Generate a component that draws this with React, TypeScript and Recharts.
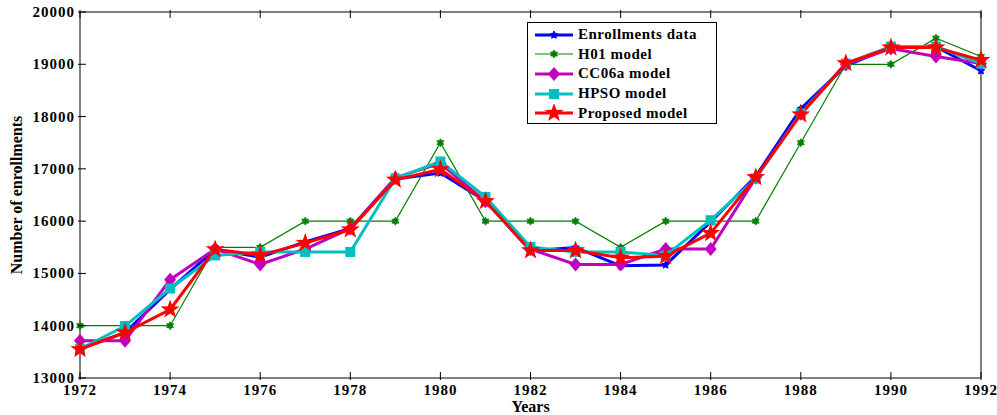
import React from "react";
import { LineChart, Line, XAxis, YAxis } from "recharts";

const years = [1972, 1973, 1974, 1975, 1976, 1977, 1978, 1979, 1980, 1981, 1982, 1983, 1984, 1985, 1986, 1987, 1988, 1989, 1990, 1991, 1992];
const enrollments = [13563, 13867, 14696, 15460, 15311, 15603, 15861, 16807, 16919, 16388, 15433, 15497, 15145, 15163, 15984, 16859, 18150, 18970, 19328, 19337, 18876];
const h01 = [14000, 14000, 14000, 15500, 15500, 16000, 16000, 16000, 17500, 16000, 16000, 16000, 15500, 16000, 16000, 16000, 17500, 19000, 19000, 19500, 19150];
const cc06a = [13714, 13714, 14880, 15467, 15172, 15467, 15861, 16831, 17106, 16380, 15464, 15172, 15172, 15467, 15467, 16831, 18055, 18998, 19300, 19149, 19014];
const hpso = [13555, 13994, 14711, 15344, 15411, 15411, 15411, 16816, 17140, 16464, 15505, 15411, 15411, 15344, 16018, 16816, 18060, 19014, 19340, 19340, 19014];
const proposed = [13550, 13870, 14310, 15460, 15350, 15580, 15840, 16790, 16990, 16380, 15440, 15440, 15300, 15330, 15770, 16840, 18040, 19020, 19320, 19320, 19080];

const xTicks = [1972, 1974, 1976, 1978, 1980, 1982, 1984, 1986, 1988, 1990, 1992];
const yTicks = [13000, 14000, 15000, 16000, 17000, 18000, 19000, 20000];

const data = years.map((y, i) => ({
  year: y,
  enr: enrollments[i],
  h01: h01[i],
  cc: cc06a[i],
  hpso: hpso[i],
  prop: proposed[i],
}));

const FONT = "'Liberation Serif', 'Times New Roman', serif";

function starPath(cx: number, cy: number, R: number, r: number, n: number) {
  let d = "";
  for (let i = 0; i < n * 2; i++) {
    const rad = i % 2 === 0 ? R : r;
    const a = -Math.PI / 2 + (i * Math.PI) / n;
    d += (i === 0 ? "M" : "L") + (cx + rad * Math.cos(a)).toFixed(2) + "," + (cy + rad * Math.sin(a)).toFixed(2);
  }
  return d + "Z";
}

const Marker = ({ kind, cx, cy, color }: { kind: string; cx: number; cy: number; color: string }) => {
  if (kind === "enr") return <path d={starPath(cx, cy, 4, 2, 5)} fill={color} stroke={color} strokeWidth={1} />;
  if (kind === "h01") return <path d={starPath(cx, cy, 4, 2.3, 6)} fill={color} stroke={color} strokeWidth={0.8} />;
  if (kind === "cc") return <path d={`M${cx},${cy - 7}L${cx + 6},${cy}L${cx},${cy + 7}L${cx - 6},${cy}Z`} fill={color} />;
  if (kind === "hpso") return <rect x={cx - 5} y={cy - 5} width={10} height={10} fill={color} />;
  return <path d={starPath(cx, cy, 10, 4, 5)} fill={color} />;
};

const makeDot = (kind: string, color: string) => (p: any) => (
  <g key={kind + p.index}>
    <Marker kind={kind} cx={p.cx} cy={p.cy} color={color} />
  </g>
);

const series = [
  { key: "enr", name: "Enrollments data", color: "#0000ff", width: 3 },
  { key: "h01", name: "H01 model", color: "#008000", width: 1.2 },
  { key: "cc", name: "CC06a model", color: "#bf00bf", width: 3 },
  { key: "hpso", name: "HPSO model", color: "#00bfbf", width: 3 },
  { key: "prop", name: "Proposed model", color: "#ff0000", width: 3 },
];

const BottomTick = (p: any) => (
  <g>
    <line x1={p.x} x2={p.x} y1={p.y} y2={p.y - 8} stroke="#000" />
    <text x={p.x} y={p.y + 15} textAnchor="middle" fontFamily={FONT} fontWeight="bold" fontSize={15} letterSpacing={1} fill="#000">
      {p.payload.value}
    </text>
  </g>
);
const TopTick = (p: any) => <line x1={p.x} x2={p.x} y1={p.y} y2={p.y + 8} stroke="#000" />;
const LeftTick = (p: any) => (
  <g>
    <line x1={p.x} x2={p.x + 8} y1={p.y} y2={p.y} stroke="#000" />
    <text x={p.x - 3} y={p.y + 5} textAnchor="end" fontFamily={FONT} fontWeight="bold" fontSize={15} letterSpacing={1} fill="#000">
      {p.payload.value}
    </text>
  </g>
);
const RightTick = (p: any) => <line x1={p.x - 8} x2={p.x} y1={p.y} y2={p.y} stroke="#000" />;

const LegendBox = () => (
  <div style={{ border: "1.5px solid #000", background: "#fff", width: 190, height: 102, boxSizing: "border-box", paddingTop: 2 }}>
    {series.map((s) => (
      <div key={s.key} style={{ display: "flex", alignItems: "center", height: 19.6 }}>
        <svg width={45} height={18} style={{ marginLeft: 5 }}>
          <line x1={2} x2={40} y1={9} y2={9} stroke={s.color} strokeWidth={s.width} />
          <Marker kind={s.key} cx={21} cy={9} color={s.color} />
        </svg>
        <span style={{ fontFamily: FONT, fontWeight: "bold", fontSize: 15, letterSpacing: 0.5, color: "#000" }}>{s.name}</span>
      </div>
    ))}
  </div>
);

export default function App() {
  return (
    <div style={{ width: 997, height: 415, position: "relative", background: "#fff" }}>
      <style>{`body{margin:0}`}</style>
      <LineChart width={997} height={415} data={data} margin={{ top: 0, right: 0, bottom: 0, left: 0 }}>
        <XAxis
          dataKey="year"
          type="number"
          domain={[1972, 1992]}
          ticks={xTicks}
          height={37}
          tickSize={0}
          tickLine={false}
          axisLine={{ stroke: "#000" }}
          tick={BottomTick}
          label={{ value: "Years", position: "insideBottom", offset: 3, style: { fontFamily: FONT, fontWeight: "bold", fontSize: 16, fill: "#000" } }}
        />
        <XAxis
          xAxisId="top"
          orientation="top"
          dataKey="year"
          type="number"
          domain={[1972, 1992]}
          ticks={xTicks}
          height={12}
          tickSize={0}
          tickLine={false}
          axisLine={{ stroke: "#000" }}
          tick={TopTick}
        />
        <YAxis
          type="number"
          domain={[13000, 20000]}
          ticks={yTicks}
          width={80}
          tickSize={0}
          tickLine={false}
          axisLine={{ stroke: "#000" }}
          tick={LeftTick}
          label={{ value: "Number of enrollments", angle: -90, position: "insideLeft", offset: 16, style: { textAnchor: "middle", fontFamily: FONT, fontWeight: "bold", fontSize: 16, fill: "#000" } }}
        />
        <YAxis
          yAxisId="right"
          orientation="right"
          type="number"
          domain={[13000, 20000]}
          ticks={yTicks}
          width={16}
          tickSize={0}
          tickLine={false}
          axisLine={{ stroke: "#000" }}
          tick={RightTick}
        />
        {series.map((s) => (
          <Line
            key={s.key}
            dataKey={s.key}
            name={s.name}
            stroke={s.color}
            strokeWidth={s.width}
            dot={makeDot(s.key, s.color)}
            activeDot={false}
            isAnimationActive={false}
          />
        ))}
      </LineChart>
      <div style={{ position: "absolute", left: 527, top: 22 }}>
        <LegendBox />
      </div>
    </div>
  );
}
